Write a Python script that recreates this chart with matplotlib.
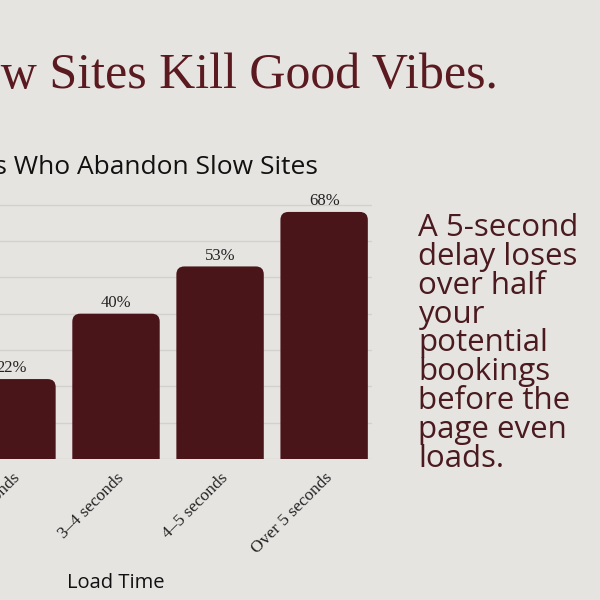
import matplotlib.pyplot as plt
from matplotlib.patches import FancyBboxPatch

# Load time buckets and share of users who abandon (the leftmost bars are cut off in the source)
categories = ['2–3 seconds', '3–4 seconds', '4–5 seconds', 'Over 5 seconds']
abandon_pct = [22, 40, 53, 68]

bg = '#e6e4e1'
bar_color = '#4a1519'
title_color = '#5a1a20'

fig = plt.figure(figsize=(6, 6), dpi=100, facecolor=bg)
# axes spills off the left edge like the cropped original
ax = fig.add_axes([-0.2333, 0.235, 0.8533, 0.436])
ax.set_facecolor(bg)

x = list(range(len(categories)))
bars = ax.bar(x, abandon_pct, width=0.84, color=bar_color, zorder=3)
ax.set_xlim(-1.46, 3.46)
ax.set_ylim(0, 72)

# swap the plain bars for ones with rounded tops
px_x = 0.8533 * 600 / (3.46 + 1.46)
px_y = 0.436 * 600 / 72
r = 8 / px_x
for b in bars:
    b.set_visible(False)
    p = FancyBboxPatch((b.get_x(), -10), b.get_width(), b.get_height() + 10,
                       boxstyle=f'round,pad=0,rounding_size={r}',
                       mutation_aspect=px_x / px_y,
                       facecolor=bar_color, edgecolor='none', zorder=3)
    ax.add_patch(p)
    ax.annotate(f'{b.get_height():.0f}%', (b.get_x() + b.get_width() / 2, b.get_height()),
                xytext=(0, 2), textcoords='offset points', ha='center', va='bottom',
                fontsize=12, family='Liberation Serif', color='#222222')

ax.set_yticks(range(0, 71, 10))
ax.set_yticklabels([])
ax.tick_params(length=0)
ax.tick_params(axis='x', pad=8)
ax.grid(axis='y', color='#d3d1ce', linewidth=1, zorder=0)
for s in ax.spines.values():
    s.set_visible(False)

ax.set_xticks(x)
ax.set_xticklabels(categories, rotation=45, ha='right', rotation_mode='anchor',
                   family='Liberation Serif', fontsize=12.5, color='#222222')
ax.set_xlabel('Load Time', family='Open Sans', fontsize=14.5, color='#111111', labelpad=11)

fig.text(498 / 600, 1 - 88 / 600, 'Slow Sites Kill Good Vibes.', ha='right', va='baseline',
         family='Liberation Serif', fontsize=36, color=title_color)
fig.text(318 / 600, 1 - 174 / 600, 'Percentage of Users Who Abandon Slow Sites', ha='right',
         va='baseline', family='Open Sans', fontsize=19, color='#111111')

side = 'A 5-second\ndelay loses\nover half\nyour\npotential\nbookings\nbefore the\npage even\nloads.'
fig.text(418 / 600, 1 - 213 / 600, side, ha='left', va='top', family='Open Sans',
         fontsize=22.5, color='#4a1a1e', linespacing=0.95)

fig.savefig('out.png', dpi=100, facecolor=bg)
